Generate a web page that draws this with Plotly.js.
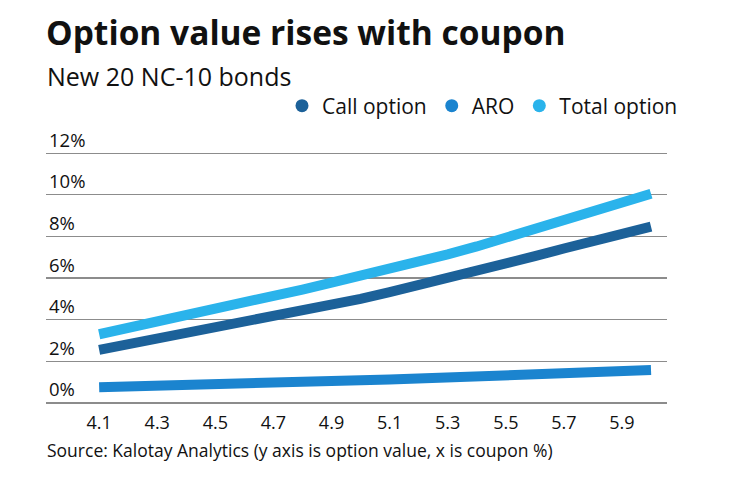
<!DOCTYPE html>
<html>
<head>
<meta charset="utf-8">
<script src="https://cdn.plot.ly/plotly-3.0.1.min.js"></script>
<style>
  html, body { margin: 0; padding: 0; background: #fff; }
  #chart { width: 740px; height: 482px; }
</style>
</head>
<body>
<div id="chart"></div>
<script>
// Coupon (%) – x axis
const coupon = [4.1, 4.2, 4.3, 4.4, 4.5, 4.6, 4.7, 4.8, 4.9, 5.0,
                5.1, 5.2, 5.3, 5.4, 5.5, 5.6, 5.7, 5.8, 5.9, 6.0];
// Option values (%)
const callOption = [2.55, 2.82, 3.05, 3.30, 3.55, 3.85, 4.12, 4.42, 4.72, 5.00,
                    5.32, 5.65, 5.95, 6.30, 6.68, 7.05, 7.42, 7.78, 8.13, 8.47];
const aro = [0.75, 0.80, 0.84, 0.88, 0.92, 0.96, 1.00, 1.03, 1.06, 1.09,
             1.12, 1.16, 1.20, 1.24, 1.29, 1.34, 1.39, 1.45, 1.51, 1.58];
const totalOption = [3.30, 3.60, 3.87, 4.16, 4.45, 4.80, 5.12, 5.45, 5.78, 6.09,
                     6.44, 6.80, 7.14, 7.52, 7.95, 8.36, 8.76, 9.20, 9.62, 10.05];
const seriesNames = ["Call option", "ARO", "Total option"];
const xTicks = [4.1, 4.3, 4.5, 4.7, 4.9, 5.1, 5.3, 5.5, 5.7, 5.9];
const xTickText = ["4.1", "4.3", "4.5", "4.7", "4.9", "5.1", "5.3", "5.5", "5.7", "5.9"];
const yTicks = [0, 2, 4, 6, 8, 10, 12];
const yTickText = ["0%", "2%", "4%", "6%", "8%", "10%", "12%"];

const colors = ["#1c6199", "#1b84cf", "#2ab3eb"];
const FONT = "'Open Sans', Lato, sans-serif";

// plot area geometry (px)
const W = 740, H = 482;
const PL = 46, PR = 667, PT = 122, PB = 405;
const YR = [-0.1, 13.5];

const seriesData = [callOption, aro, totalOption];
const traces = [];
// draw order: ARO, Call, Total
[1, 0, 2].forEach(i => {
  traces.push({
    x: coupon, y: seriesData[i], type: "scatter", mode: "lines",
    line: { color: colors[i], width: 10 },
    showlegend: false, hoverinfo: "skip", cliponaxis: false
  });
});
// legend entries as circles
seriesNames.forEach((n, i) => {
  traces.push({
    x: [null], y: [null], type: "scatter", mode: "markers", name: n,
    marker: { color: colors[i], size: 13, symbol: "circle" },
    showlegend: true
  });
});

function px2paperX(px) { return (px - PL) / (PR - PL); }
function px2paperY(py) { return (PB - py) / (PB - PT); }

const layout = {
  width: W, height: H,
  margin: { l: PL, r: W - PR, t: PT, b: H - PB },
  paper_bgcolor: "#fff", plot_bgcolor: "#fff",
  font: { family: FONT, color: "#111", size: 17 },
  title: {
    text: "<b>Option value rises with coupon</b>",
    font: { family: FONT, size: 33.5, color: "#111" },
    xref: "container", yref: "container",
    x: 46 / W, xanchor: "left",
    y: 1 - 22 / H, yanchor: "top"
  },
  showlegend: true,
  legend: {
    orientation: "h",
    x: px2paperX(683), xanchor: "right",
    y: px2paperY(106), yanchor: "middle",
    font: { family: FONT, size: 21, color: "#111" },
    bgcolor: "rgba(0,0,0,0)"
  },
  xaxis: {
    range: [3.917, 6.055],
    tickvals: xTicks, ticktext: xTickText,
    showgrid: false, zeroline: false, showline: false,
    ticks: "", ticklabelstandoff: 5,
    tickfont: { family: FONT, size: 18, color: "#111" },
    fixedrange: true
  },
  yaxis: {
    range: YR,
    tickvals: yTicks, ticktext: yTickText,
    showgrid: true, gridcolor: "#8c8c8c", gridwidth: 1.2,
    zeroline: false, showline: false, ticks: "",
    ticklabelposition: "inside top",
    tickfont: { family: FONT, size: 18.5, color: "#111" },
    fixedrange: true
  },
  annotations: [
    {
      text: "New 20 NC-10 bonds", xref: "paper", yref: "paper",
      x: px2paperX(45), y: px2paperY(57), xanchor: "left", yanchor: "top",
      showarrow: false, font: { family: FONT, size: 25, color: "#111" }
    },
    {
      text: "Source: Kalotay Analytics (y axis is option value, x is coupon %)",
      xref: "paper", yref: "paper",
      x: px2paperX(45), y: px2paperY(436), xanchor: "left", yanchor: "top",
      showarrow: false, font: { family: FONT, size: 17.5, color: "#111" }
    }
  ]
};

Plotly.newPlot("chart", traces, layout, { displayModeBar: false, staticPlot: true });
</script>
</body>
</html>
